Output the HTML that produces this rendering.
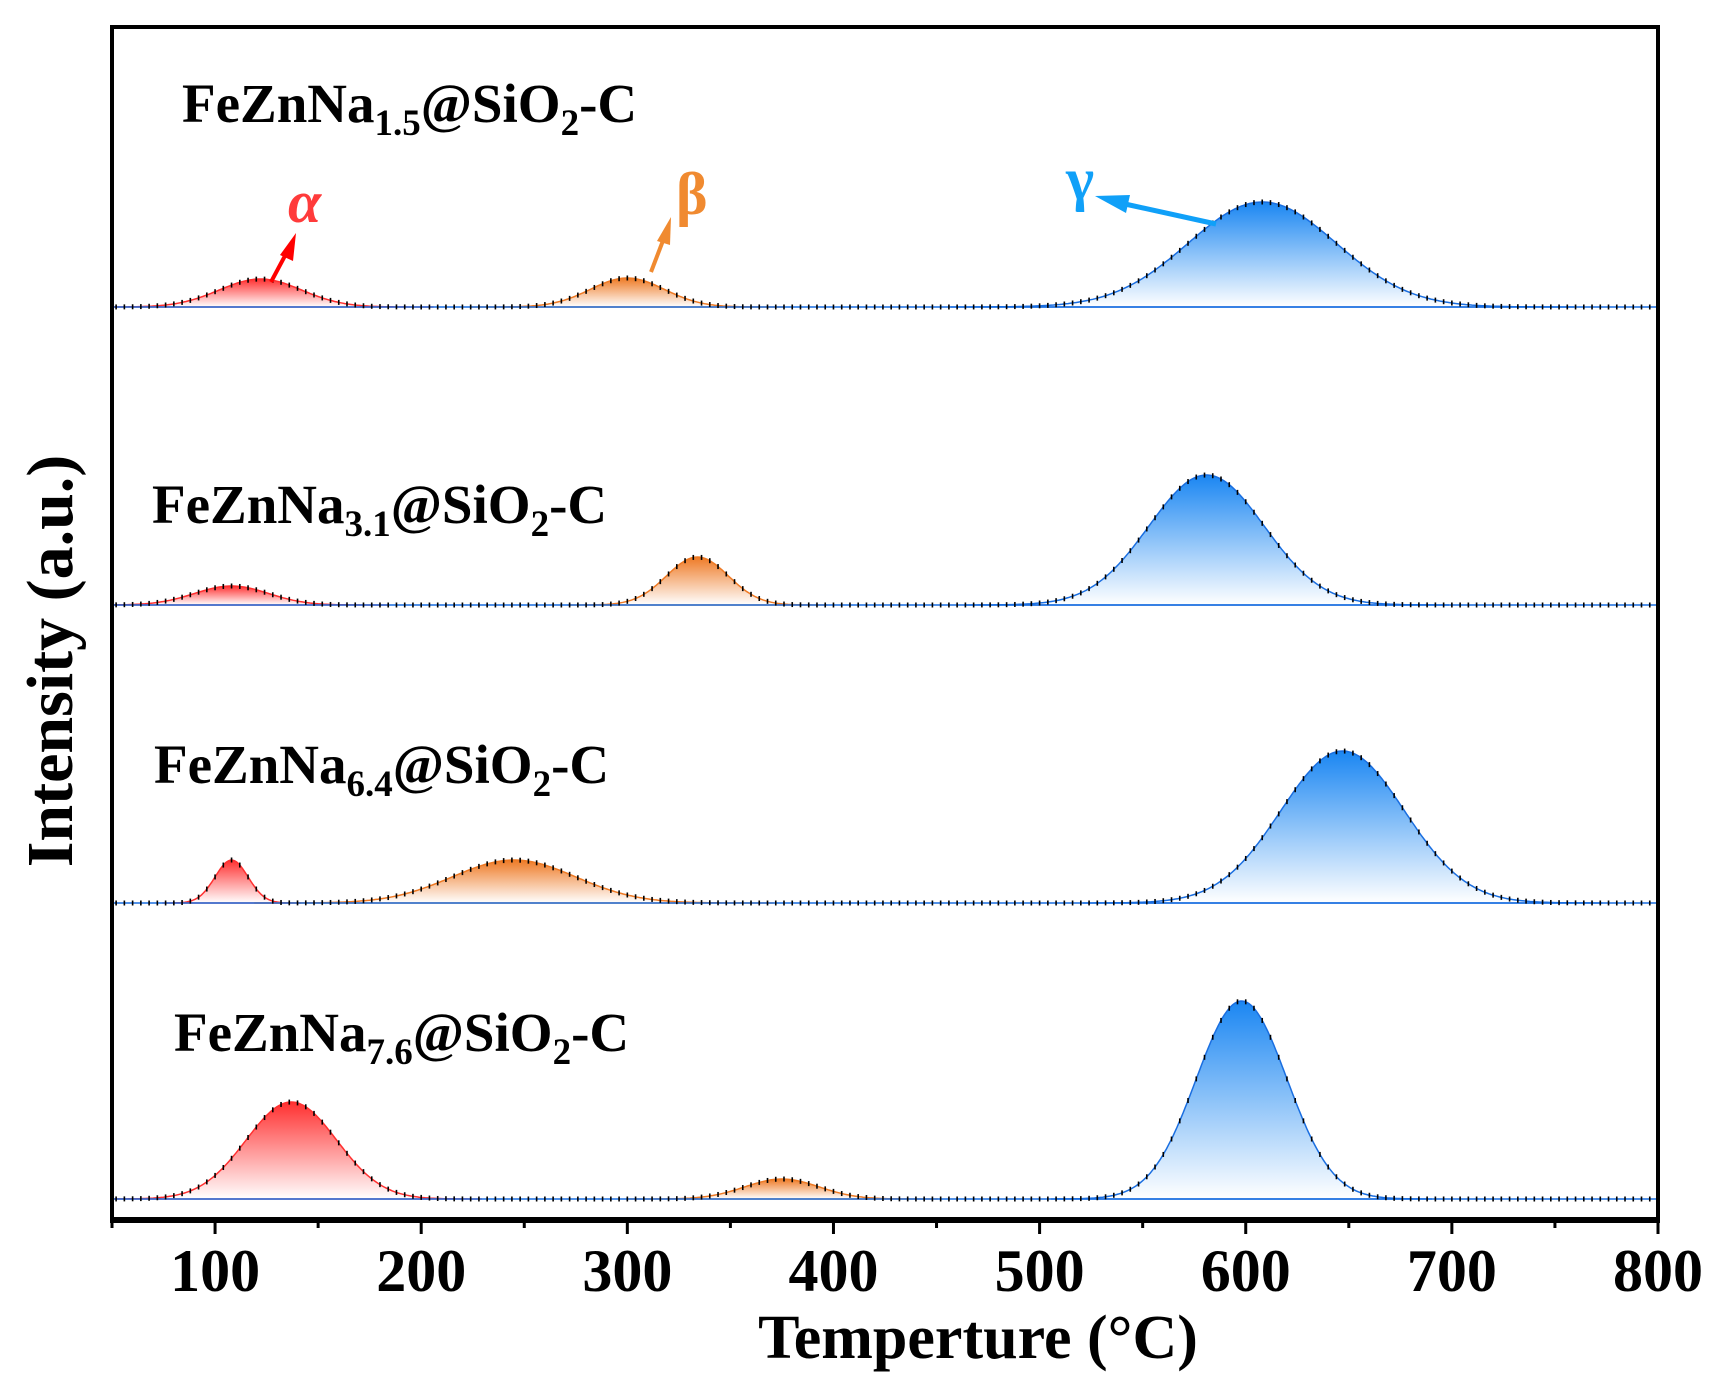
<!DOCTYPE html>
<html><head><meta charset="utf-8"><style>
html,body{margin:0;padding:0;background:#fff}
svg{display:block}
text{font-family:"Liberation Serif",serif;font-weight:bold}
</style></head><body>
<svg id="chart" width="1728" height="1388" viewBox="0 0 1728 1388" xmlns="http://www.w3.org/2000/svg">
<defs>
<linearGradient id="gr" x1="0" y1="0" x2="0" y2="1"><stop offset="0" stop-color="#ff3030"/><stop offset="1" stop-color="#ffffff"/></linearGradient>
<linearGradient id="go" x1="0" y1="0" x2="0" y2="1"><stop offset="0" stop-color="#ee7a25"/><stop offset="1" stop-color="#ffffff"/></linearGradient>
<linearGradient id="gb" x1="0" y1="0" x2="0" y2="1"><stop offset="0" stop-color="#1a86f2"/><stop offset="1" stop-color="#ffffff"/></linearGradient>
</defs>
<g id="plot"></g>
<rect x="112" y="27" width="1546" height="1193" fill="none" stroke="#000" stroke-width="4"/>
<line x1="110" y1="1220" x2="1660" y2="1220" stroke="#000" stroke-width="6"/>
<g id="xticks"></g>
<text x="978" y="1358" font-size="62" text-anchor="middle">Temperture (°C)</text>
<text x="0" y="0" font-size="66" text-anchor="middle" transform="translate(72,661) rotate(-90)">Intensity (a.u.)</text>
<text x="182" y="122" font-size="55">FeZnNa<tspan font-size="37" dy="13">1.5</tspan><tspan dy="-13">@SiO</tspan><tspan font-size="37" dy="13">2</tspan><tspan dy="-13">-C</tspan></text>
<text x="152" y="523" font-size="55">FeZnNa<tspan font-size="37" dy="13">3.1</tspan><tspan dy="-13">@SiO</tspan><tspan font-size="37" dy="13">2</tspan><tspan dy="-13">-C</tspan></text>
<text x="154" y="783" font-size="55">FeZnNa<tspan font-size="37" dy="13">6.4</tspan><tspan dy="-13">@SiO</tspan><tspan font-size="37" dy="13">2</tspan><tspan dy="-13">-C</tspan></text>
<text x="174" y="1051" font-size="55">FeZnNa<tspan font-size="37" dy="13">7.6</tspan><tspan dy="-13">@SiO</tspan><tspan font-size="37" dy="13">2</tspan><tspan dy="-13">-C</tspan></text>
<text x="288" y="222" font-size="60" fill="#ff3b3b" font-style="italic">α</text>
<text x="676" y="214" font-size="60" fill="#f08a30">β</text>
<text x="1066" y="199" font-size="60" fill="#10a0f8">γ</text>
<g fill="#ff0000" stroke="#ff0000">
<line x1="271" y1="282" x2="287" y2="252" stroke-width="4"/><polygon points="296,233 280,255 293,261" stroke="none"/></g>
<g fill="#f08a30" stroke="#f08a30">
<line x1="651" y1="272" x2="664" y2="238" stroke-width="4"/><polygon points="671,217 657,241 670,245" stroke="none"/></g>
<g fill="#10a0f8" stroke="#10a0f8">
<line x1="1216" y1="224" x2="1125" y2="204" stroke-width="5"/><polygon points="1095,196 1130,195 1126,213" stroke="none"/></g>
</svg>
<script>
const xMin = 50, xMax = 800;
const xTicks = [100,200,300,400,500,600,700,800];
const baselines = [307, 605, 903, 1199];
const peakTypes = ['alpha','beta','gamma'];
const centersS1 = [122, 300, 608];
const heightsS1 = [28, 29, 105];
const sigmasS1 = [20, 18, 36];
const centersS2 = [108, 334, 581];
const heightsS2 = [19, 48, 130];
const sigmasS2 = [18, 15, 28];
const centersS3 = [108, 245, 647];
const heightsS3 = [43, 43, 152];
const sigmasS3 = [8, 30, 30];
const centersS4 = [137, 375, 598];
const heightsS4 = [97, 20, 198];
const sigmasS4 = [22, 18, 22];
const samples = [[centersS1,heightsS1,sigmasS1],[centersS2,heightsS2,sigmasS2],[centersS3,heightsS3,sigmasS3],[centersS4,heightsS4,sigmasS4]];
const NS='http://www.w3.org/2000/svg';
const L=112, R=1658;
const xs = t => L + (t - xMin)/(xMax - xMin)*(R-L);
const plot=document.getElementById('plot');
const fills=['url(#gr)','url(#go)','url(#gb)'];
const strokes=['#ff3030','#ee7a25','#1a6ee0'];
function mk(tag,attrs){const e=document.createElementNS(NS,tag);for(const k in attrs)e.setAttribute(k,attrs[k]);return e;}
samples.forEach((s,si)=>{
  const base=baselines[si];
  for(let p=0;p<3;p++){
    const c=s[0][p],h=s[1][p],sg=s[2][p];
    const lo=Math.max(xMin,c-4.2*sg),hi=Math.min(xMax,c+4.2*sg);
    let d='M'+xs(lo)+','+base;
    for(let t=lo;t<=hi+0.01;t+=1){const y=base-h*Math.exp(-0.5*((t-c)/sg)**2);d+=' L'+xs(t).toFixed(1)+','+y.toFixed(1);}
    const area=mk('path',{d:d+' L'+xs(hi)+','+base+' Z',fill:fills[p],stroke:strokes[p],'stroke-width':1.5});
    
    
    plot.appendChild(area);
  }
  const bl=mk('line',{x1:L,x2:R,y1:base,y2:base,stroke:'#1a6ee0','stroke-width':1.6});
  
  
  plot.appendChild(bl);
  const g=mk('g',{fill:'#000'});
  
  
  for(let t=xMin+2;t<xMax;t+=4){
    let y=base;for(let p=0;p<3;p++)y-=s[1][p]*Math.exp(-0.5*((t-s[0][p])/s[2][p])**2);
    g.appendChild(mk('rect',{x:xs(t)-0.8,y:y-2.5,width:1.6,height:5}));
  }
  plot.appendChild(g);
});
const xt=document.getElementById('xticks');
for(let t=xMin;t<=xMax;t+=50){
  const major=t%100===0;
  const tk=mk('line',{x1:xs(t),x2:xs(t),y1:1220,y2:1220+(major?14:8),stroke:'#000','stroke-width':3});
  
  
  xt.appendChild(tk);
}
xTicks.forEach(v=>{
  const tx=mk('text',{x:xs(v),y:1291,'font-size':60,'text-anchor':'middle'});
  tx.textContent=v;
  
  
  xt.appendChild(tx);
});
</script>
</body></html>
